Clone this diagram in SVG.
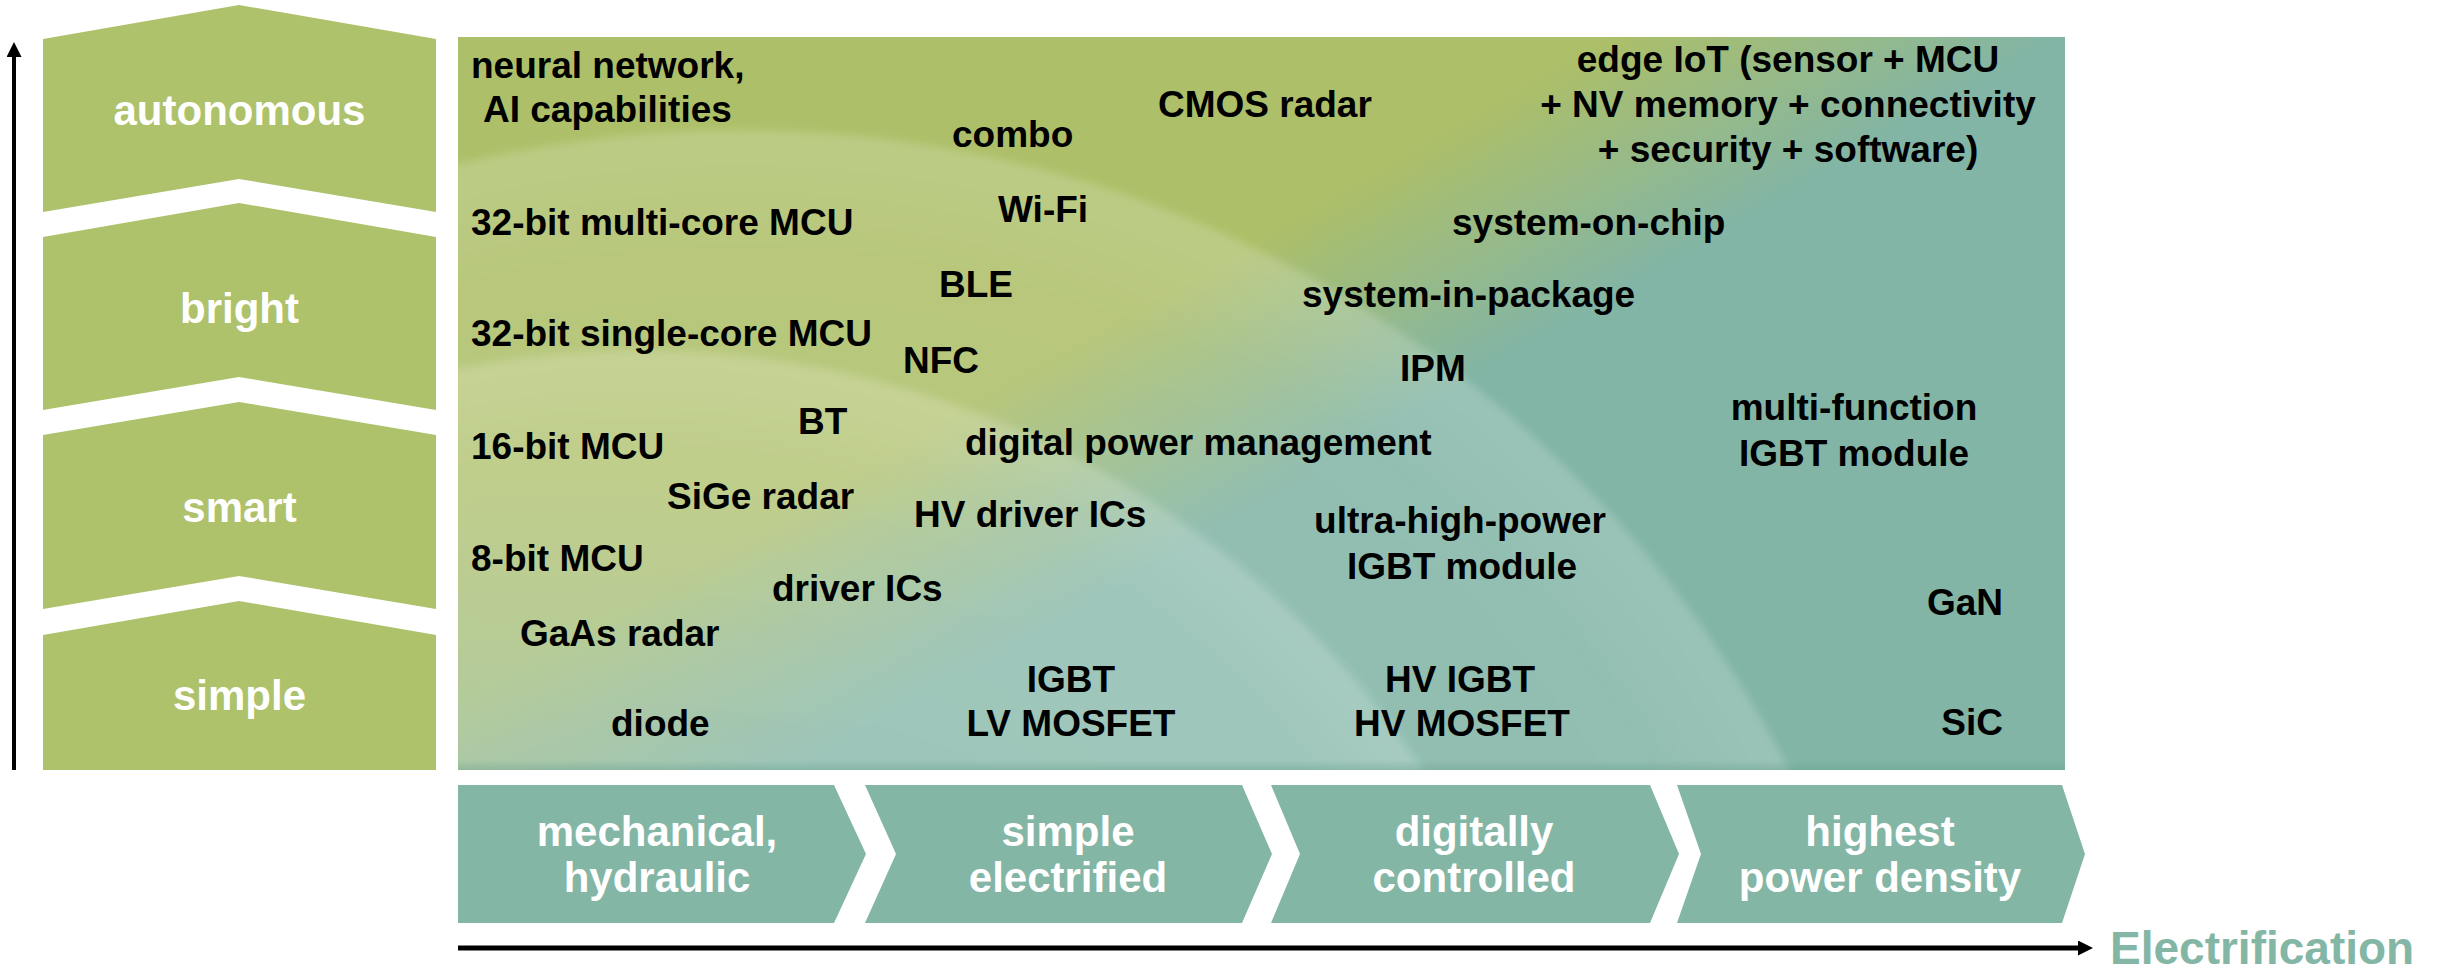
<svg xmlns="http://www.w3.org/2000/svg" width="2447" height="970" viewBox="0 0 2447 970">
  <style>
    text { font-family: "Liberation Sans", Arial, sans-serif; font-weight: bold; }
    .tier { fill: #aec26b; }
    .tier-label { fill: #ffffff; font-size: 42px; text-anchor: middle; }
    .stage { fill: #84b6a6; }
    .stage-label { fill: #ffffff; font-size: 42px; text-anchor: middle; }
    .item { fill: #000000; font-size: 37px; }
    .mid { text-anchor: middle; }
    .end { text-anchor: end; }
    .axis { stroke: #000000; fill: none; }
    .axis-title { fill: #84b6a6; font-size: 46px; }
  </style>
  <defs>
    <marker id="arrowhead" viewBox="0 0 15 15" refX="0" refY="7.5" markerWidth="15" markerHeight="15" markerUnits="userSpaceOnUse" orient="auto">
      <path d="M0,0 L15,7.5 L0,15 z" fill="#000000"/>
    </marker>
    <!-- base colour of the technology field: olive top-left, teal bottom-right -->
    <linearGradient id="fieldBase" gradientUnits="userSpaceOnUse" x1="1325" y1="200" x2="1440" y2="399">
      <stop offset="0" stop-color="#adbf68"/>
      <stop offset="1" stop-color="#82b5a6"/>
    </linearGradient>
    <!-- teal wash rising from the bottom edge -->
    <linearGradient id="bottomWash" gradientUnits="userSpaceOnUse" x1="0" y1="480" x2="0" y2="770">
      <stop offset="0" stop-color="#82b5a6" stop-opacity="0"/>
      <stop offset="1" stop-color="#82b5a6" stop-opacity="0.45"/>
    </linearGradient>
    <!-- light bands, brighter towards their rim -->
    <radialGradient id="band" gradientUnits="objectBoundingBox" cx="0.5" cy="0.5" r="0.5">
      <stop offset="0" stop-color="#ffffff" stop-opacity="0.10"/>
      <stop offset="0.9" stop-color="#ffffff" stop-opacity="0.13"/>
      <stop offset="0.985" stop-color="#ffffff" stop-opacity="0.19"/>
      <stop offset="1" stop-color="#ffffff" stop-opacity="0.19"/>
    </radialGradient>
    <linearGradient id="bottomShade" x1="0" y1="0" x2="0" y2="1">
      <stop offset="0" stop-color="#5f9a8a" stop-opacity="0"/>
      <stop offset="1" stop-color="#5f9a8a" stop-opacity="0.35"/>
    </linearGradient>
    <clipPath id="fieldClip">
      <rect x="458" y="37" width="1607" height="733"/>
    </clipPath>
    <filter id="soft" x="-10%" y="-10%" width="120%" height="120%">
      <feGaussianBlur stdDeviation="4"/>
    </filter>
  </defs>

  <!-- smartness tiers -->
  <g id="tier-autonomous">
    <polygon class="tier" points="43,39 239,5 436,39 436,212 239,179 43,212"/>
    <text class="tier-label" x="239.5" y="125">autonomous</text>
  </g>
  <g id="tier-bright">
    <polygon class="tier" points="43,237 239,203 436,237 436,410 239,377 43,410"/>
    <text class="tier-label" x="239.5" y="323">bright</text>
  </g>
  <g id="tier-smart">
    <polygon class="tier" points="43,435 239,402 436,435 436,609 239,576 43,609"/>
    <text class="tier-label" x="239.5" y="522">smart</text>
  </g>
  <g id="tier-simple">
    <polygon class="tier" points="43,635 239,601 436,635 436,770 43,770"/>
    <text class="tier-label" x="239.5" y="710">simple</text>
  </g>

  <!-- technology field -->
  <g id="field">
    <rect x="458" y="37" width="1607" height="733" fill="url(#fieldBase)"/>
    <rect x="458" y="480" width="1607" height="290" fill="url(#bottomWash)"/>
    <g clip-path="url(#fieldClip)">
      <circle cx="740" cy="1310" r="1180" fill="url(#band)" filter="url(#soft)"/>
      <circle cx="640" cy="1290" r="940" fill="url(#band)" filter="url(#soft)"/>
      <rect x="458" y="760" width="1607" height="10" fill="url(#bottomShade)"/>
    </g>
  </g>

  <g id="item-neural-network">
    <text class="item" x="471" y="78">neural network,</text>
    <text class="item" x="483" y="122">AI capabilities</text>
  </g>
  <g id="item-combo"><text class="item" x="952" y="147">combo</text></g>
  <g id="item-cmos-radar"><text class="item" x="1158" y="117">CMOS radar</text></g>
  <g id="item-edge-iot">
    <text class="item mid" x="1788" y="72">edge IoT (sensor + MCU</text>
    <text class="item mid" x="1788" y="117">+ NV memory + connectivity</text>
    <text class="item mid" x="1788" y="162">+ security + software)</text>
  </g>
  <g id="item-wifi"><text class="item" x="998" y="222">Wi-Fi</text></g>
  <g id="item-mcu32-multi"><text class="item" x="471" y="235">32-bit multi-core MCU</text></g>
  <g id="item-soc"><text class="item" x="1452" y="235">system-on-chip</text></g>
  <g id="item-ble"><text class="item" x="939" y="297">BLE</text></g>
  <g id="item-sip"><text class="item" x="1302" y="307">system-in-package</text></g>
  <g id="item-mcu32-single"><text class="item" x="471" y="346">32-bit single-core MCU</text></g>
  <g id="item-nfc"><text class="item" x="903" y="373">NFC</text></g>
  <g id="item-ipm"><text class="item" x="1400" y="381">IPM</text></g>
  <g id="item-bt"><text class="item" x="798" y="434">BT</text></g>
  <g id="item-mcu16"><text class="item" x="471" y="459">16-bit MCU</text></g>
  <g id="item-digital-power"><text class="item" x="965" y="455">digital power management</text></g>
  <g id="item-multi-function-igbt">
    <text class="item mid" x="1854" y="420">multi-function</text>
    <text class="item mid" x="1854" y="466">IGBT module</text>
  </g>
  <g id="item-sige-radar"><text class="item" x="667" y="509">SiGe radar</text></g>
  <g id="item-hv-driver"><text class="item" x="914" y="527">HV driver ICs</text></g>
  <g id="item-uhp-igbt">
    <text class="item mid" x="1460" y="533">ultra-high-power</text>
    <text class="item mid" x="1462" y="579">IGBT module</text>
  </g>
  <g id="item-mcu8"><text class="item" x="471" y="571">8-bit MCU</text></g>
  <g id="item-driver"><text class="item" x="772" y="601">driver ICs</text></g>
  <g id="item-gan"><text class="item end" x="2003" y="615">GaN</text></g>
  <g id="item-gaas-radar"><text class="item" x="520" y="646">GaAs radar</text></g>
  <g id="item-igbt-lv">
    <text class="item mid" x="1071" y="692">IGBT</text>
    <text class="item mid" x="1071" y="736">LV MOSFET</text>
  </g>
  <g id="item-hv-igbt">
    <text class="item mid" x="1460" y="692">HV IGBT</text>
    <text class="item mid" x="1462" y="736">HV MOSFET</text>
  </g>
  <g id="item-diode"><text class="item" x="611" y="736">diode</text></g>
  <g id="item-sic"><text class="item end" x="2003" y="735">SiC</text></g>

  <!-- electrification stages -->
  <g id="stage-mechanical">
    <polygon class="stage" points="458,785 834,785 866,854 834,923 458,923"/>
    <text class="stage-label" x="657" y="846">mechanical,</text>
    <text class="stage-label" x="657" y="892">hydraulic</text>
  </g>
  <g id="stage-simple-electrified">
    <polygon class="stage" points="865,785 1242,785 1272,854 1242,923 865,923 896,854"/>
    <text class="stage-label" x="1068" y="846">simple</text>
    <text class="stage-label" x="1068" y="892">electrified</text>
  </g>
  <g id="stage-digitally-controlled">
    <polygon class="stage" points="1271,785 1650,785 1679,854 1650,923 1271,923 1300,854"/>
    <text class="stage-label" x="1474" y="846">digitally</text>
    <text class="stage-label" x="1474" y="892">controlled</text>
  </g>
  <g id="stage-power-density">
    <polygon class="stage" points="1677,785 2062,785 2085,854 2062,923 1677,923 1701,854"/>
    <text class="stage-label" x="1880" y="846">highest</text>
    <text class="stage-label" x="1880" y="892">power density</text>
  </g>

  <!-- axes -->
  <g id="connectors">
    <line class="axis" x1="14" y1="770" x2="14" y2="57" stroke-width="4" marker-end="url(#arrowhead)"/>
    <line class="axis" x1="458" y1="948" x2="2078" y2="948" stroke-width="5" marker-end="url(#arrowhead)"/>
  </g>
  <g id="axis-label">
    <text class="axis-title" x="2110" y="964">Electrification</text>
  </g>
</svg>
